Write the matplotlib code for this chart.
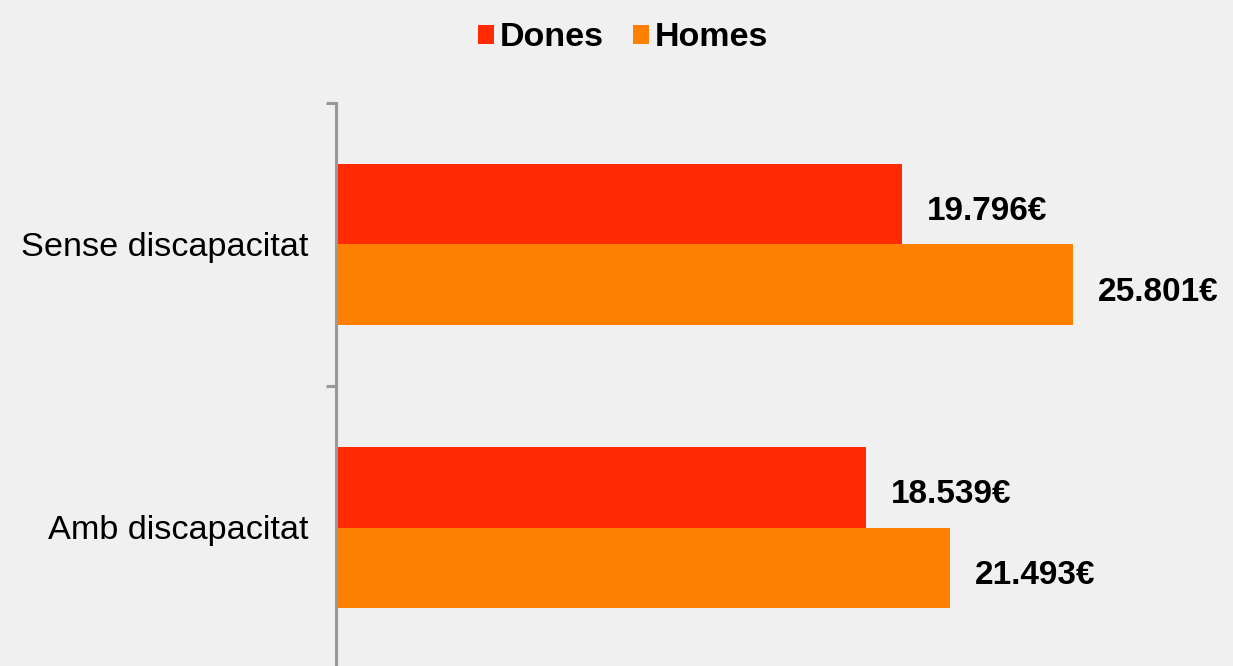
import matplotlib
matplotlib.use("Agg")
import matplotlib.pyplot as plt
from matplotlib.patches import Patch

# Data
categories = ["Amb discapacitat", "Sense discapacitat"]
dones = [18539, 19796]
homes = [21493, 25801]
series_names = ["Dones", "Homes"]

RED = "#ff2a00"
ORANGE = "#ff7f00"
AXIS_GREY = "#999999"
BG = "#f0f0f0"

plt.rcParams["font.family"] = ["Liberation Sans", "DejaVu Sans"]


def euro(v):
    return f"{v:,}".replace(",", ".") + "€"


fig = plt.figure(figsize=(12.33, 6.66), dpi=100, facecolor=BG)
# plot area: axis line at x=336px, category boundaries every 283px starting at y=103px
ax = fig.add_axes([336 / 1233, -3 / 666, 1 - 336 / 1233, 566 / 666])
ax.set_facecolor(BG)

y = list(range(len(categories)))
h = 0.286
y_d = [v + h / 2 for v in y]
y_h = [v - h / 2 for v in y]
ax.barh(y_d, dones, height=h, color=RED, linewidth=0)
ax.barh(y_h, homes, height=h, color=ORANGE, linewidth=0)

# value labels to the right of each bar
for vals, ys in [(dones, y_d), (homes, y_h)]:
    for v, yy in zip(vals, ys):
        ax.annotate(euro(v), (v, yy), xytext=(18, -3), textcoords="offset points",
                    ha="left", va="center_baseline", fontsize=24, fontweight="bold")

ax.set_xlim(0, 31400)
ax.set_ylim(-0.5, 1.5)

# category labels on majors, boundary ticks on minors
ax.set_yticks(y)
ax.set_yticklabels(categories, fontsize=24.7)
ax.set_yticks([-0.5, 0.5, 1.5], minor=True)
ax.tick_params(axis="y", which="major", length=0, pad=20)
ax.tick_params(axis="y", which="minor", length=7, width=2.2, color=AXIS_GREY)
ax.set_xticks([])

for side in ["top", "right", "bottom"]:
    ax.spines[side].set_visible(False)
ax.spines["left"].set_color(AXIS_GREY)
ax.spines["left"].set_linewidth(2.2)

handles = [Patch(facecolor=RED, edgecolor="none"), Patch(facecolor=ORANGE, edgecolor="none")]
fig.legend(handles, series_names, loc="center", bbox_to_anchor=(623 / 1233, 0.943),
           ncol=2, frameon=False, handlelength=0.47, handleheight=0.47,
           handletextpad=0.18, columnspacing=0.85,
           prop={"size": 24.5, "weight": "bold"})

fig.savefig("out.png", dpi=100, facecolor=BG)
